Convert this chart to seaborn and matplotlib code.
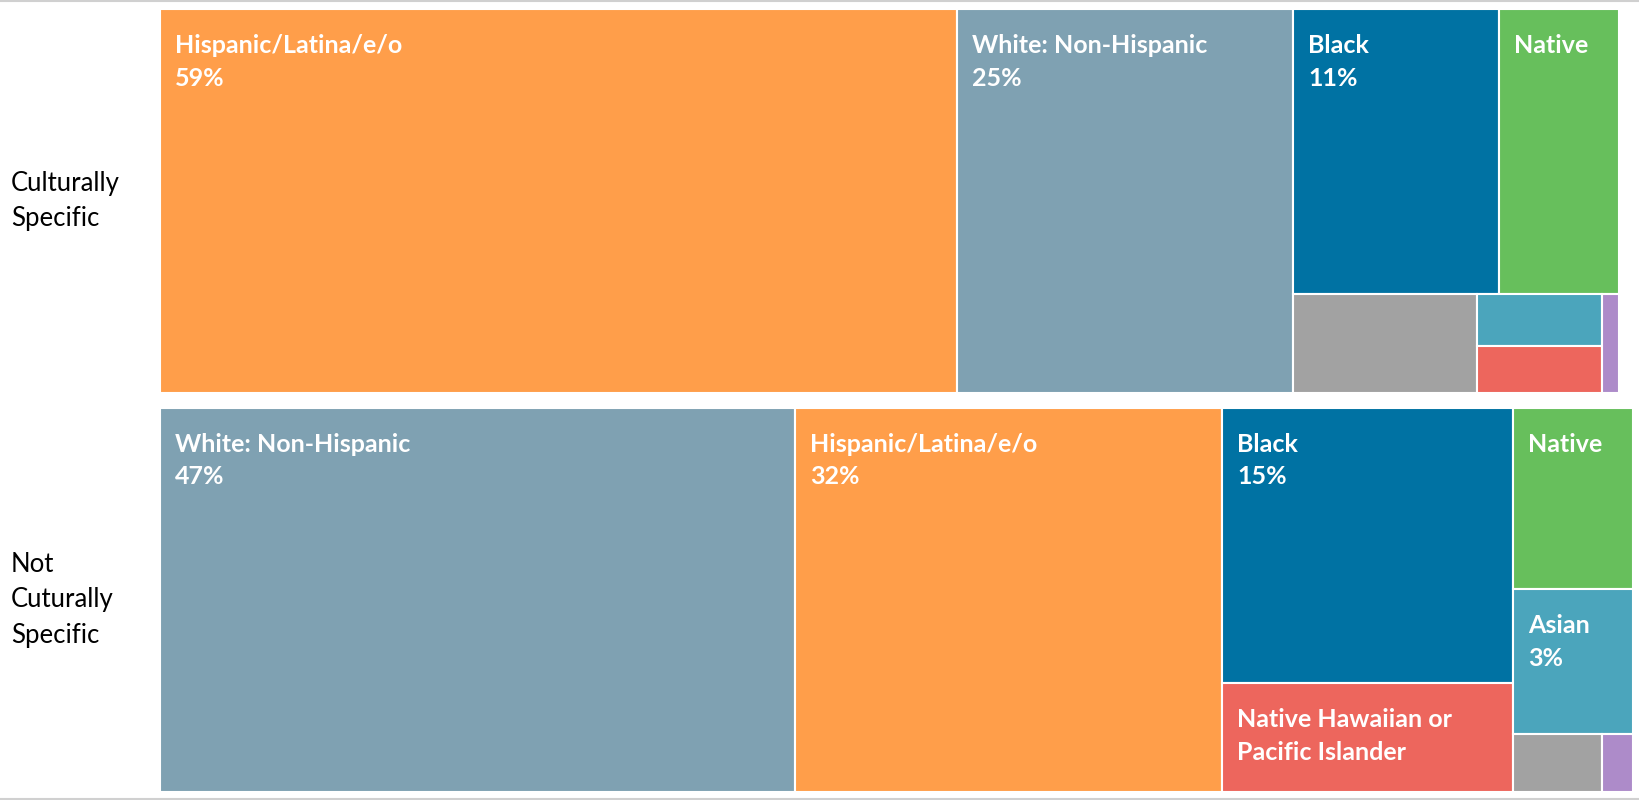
import numpy as np
import pandas as pd
import seaborn as sns
import matplotlib.pyplot as plt
from matplotlib.patches import Rectangle
from matplotlib.lines import Line2D

sns.set_theme(style="white")
plt.rcParams['font.family'] = ['Lato', 'DejaVu Sans']

# Data: % of participants by race/ethnicity (people may pick more than one, so > 100%)
groups = ["Culturally\nSpecific", "Not\nCuturally\nSpecific"]

cs_race = ["Hispanic/Latina/e/o", "White: Non-Hispanic", "Black", "Native",
           "Other", "Asian", "Native Hawaiian or\nPacific Islander", "Unknown"]
cs_pct = [59, 24.9, 11.3, 6.6, 3.5, 1.25, 1.15, 0.32]
cs_label = ["full", "full", "full", "name", "none", "none", "none", "none"]

ncs_race = ["White: Non-Hispanic", "Hispanic/Latina/e/o", "Black",
            "Native Hawaiian or\nPacific Islander", "Native", "Asian", "Other", "Unknown"]
ncs_pct = [47, 31.6, 15.4, 6.1, 4.2, 3.35, 1.0, 0.35]
ncs_label = ["full", "full", "full", "name", "name", "full", "none", "none"]

race_colors = {
    "Hispanic/Latina/e/o": "#FF9E4A",
    "White: Non-Hispanic": "#7FA1B2",
    "Black": "#0072A3",
    "Native": "#67BF5C",
    "Asian": "#4BA5BC",
    "Native Hawaiian or\nPacific Islander": "#ED665D",
    "Other": "#A2A2A2",
    "Unknown": "#AD8BC9",
}


def squarify(values, w, h, max_aspect=3.0):
    """Squarified treemap; a strip keeps growing while it improves or stays under max_aspect."""
    rects = []
    x0, y0 = 0.0, 0.0
    vals = list(values)
    i = 0
    while i < len(vals):
        tot = sum(vals[i:])
        wide = w >= h
        side = h if wide else w
        span = w if wide else h

        def worst(row):
            s = sum(row)
            thick = s / tot * span
            return max(max(thick / (side * v / s), (side * v / s) / thick) for v in row)

        row = [vals[i]]
        j = i + 1
        while j < len(vals):
            cand = row + [vals[j]]
            new = worst(cand)
            if new <= worst(row) or new <= max_aspect:
                row = cand
                j += 1
            else:
                break
        s = sum(row)
        thick = s / tot * span
        pos = 0.0
        for v in row:
            ln = side * v / s
            if wide:
                rects.append((x0, y0 + pos, thick, ln))
            else:
                rects.append((x0 + pos, y0, ln, thick))
            pos += ln
        if wide:
            x0 += thick
            w -= thick
        else:
            y0 += thick
            h -= thick
        i = j
    return rects


fig = plt.figure(figsize=(16.39, 8.0), dpi=100)
W, H = 1639, 800

# panel boxes in pixels (left, top, width, height)
panels = [
    (160, 9, 1459, 384, cs_race, cs_pct, cs_label),
    (160, 408, 1473, 384, ncs_race, ncs_pct, ncs_label),
]

for k, (px, py, pw, ph, races, pcts, shows) in enumerate(panels):
    ax = fig.add_axes([px / W, 1 - (py + ph) / H, pw / W, ph / H])
    df = pd.DataFrame({"race": races, "pct": pcts, "show": shows})
    df = df.sort_values("pct", ascending=False).reset_index(drop=True)
    rects = squarify(df["pct"].values, pw, ph)
    for (rx, ry, rw, rh), (_, r) in zip(rects, df.iterrows()):
        ax.add_patch(Rectangle((rx, ry), rw, rh, facecolor=race_colors[r["race"]],
                               edgecolor="white", linewidth=1.5))
        if r["show"] == "none":
            continue
        txt = r["race"] if r["show"] == "name" else f"{r['race']}\n{r['pct']:.0f}%"
        ax.annotate(txt, (rx, ry), xytext=(15, -25), textcoords="offset pixels",
                    ha="left", va="top", color="white", fontsize=18, fontweight="bold",
                    linespacing=1.5)
    ax.set_xlim(0, pw)
    ax.set_ylim(ph, 0)
    ax.axis("off")

    fig.text(11 / W, 1 - (py + ph / 2) / H, groups[k], ha="left", va="center",
             fontsize=18.5, color="black", linespacing=1.5)

fig.add_artist(Line2D([0, 1], [1 - 1 / H, 1 - 1 / H], color="#d0d0d0", linewidth=1.5))
fig.add_artist(Line2D([0, 1], [1 - 798.5 / H, 1 - 798.5 / H], color="#d0d0d0", linewidth=1.5))

fig.savefig("out.png", dpi=100)
